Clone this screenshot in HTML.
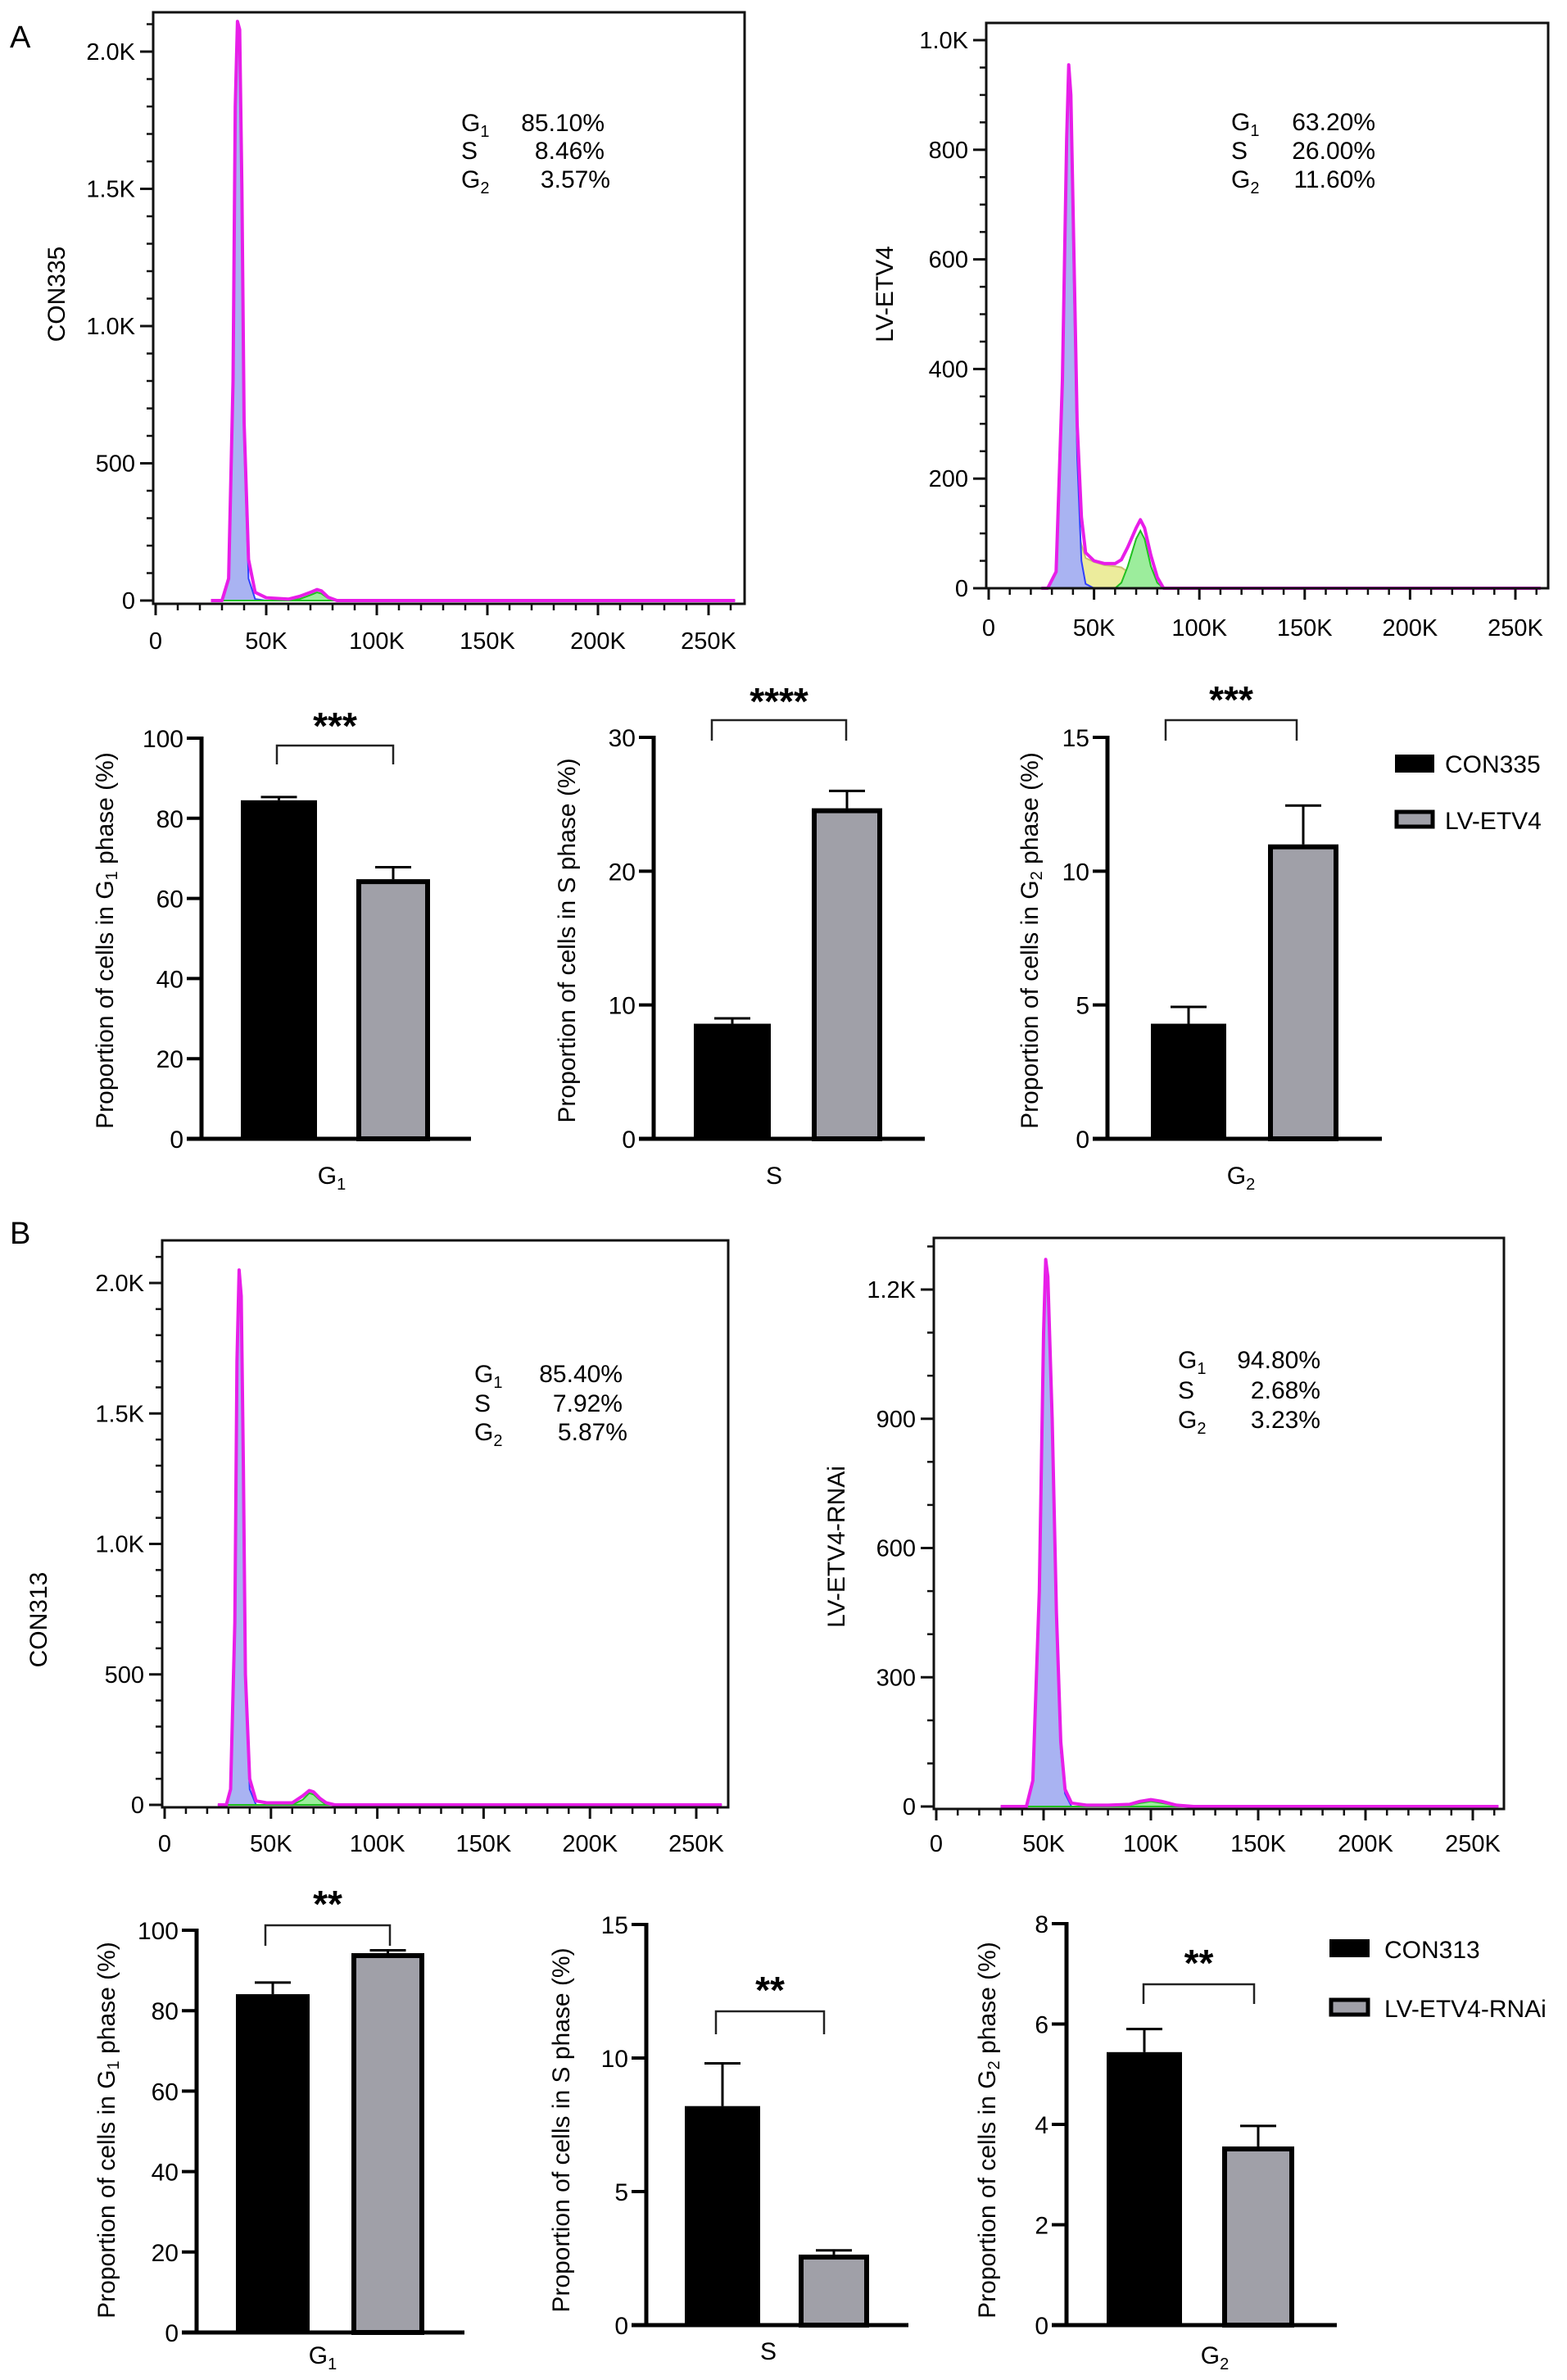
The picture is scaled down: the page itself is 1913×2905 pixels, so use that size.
<!DOCTYPE html>
<html><head><meta charset="utf-8"><title>Cell cycle figure</title>
<style>
html,body{margin:0;padding:0;background:#fff;}
svg{display:block;font-family:"Liberation Sans",Arial,sans-serif;}
</style></head>
<body>
<svg id="fig" width="1913" height="2905" viewBox="0 0 1913 2905" xmlns="http://www.w3.org/2000/svg">
<rect x="0" y="0" width="1913" height="2905" fill="#fff"/>
<text x="12" y="58" font-size="38">A</text>
<text x="12" y="1518" font-size="38">B</text>

<text transform="translate(79,359) rotate(-90)" text-anchor="middle" font-size="30">CON335</text>
<text transform="translate(1090,359) rotate(-90)" text-anchor="middle" font-size="30">LV-ETV4</text>
<text transform="translate(57,1977) rotate(-90)" text-anchor="middle" font-size="30">CON313</text>
<text transform="translate(1031,1888) rotate(-90)" text-anchor="middle" font-size="30">LV-ETV4-RNAi</text>

<g font-size="30">
<text x="563" y="160">G<tspan font-size="20" dy="7">1</tspan></text><text x="738" y="160" text-anchor="end">85.10%</text>
<text x="563" y="194">S</text><text x="738" y="194" text-anchor="end">8.46%</text>
<text x="563" y="229">G<tspan font-size="20" dy="7">2</tspan></text><text x="745" y="229" text-anchor="end">3.57%</text>
</g>
<g font-size="30">
<text x="1503" y="159">G<tspan font-size="20" dy="7">1</tspan></text><text x="1679" y="159" text-anchor="end">63.20%</text>
<text x="1503" y="194">S</text><text x="1679" y="194" text-anchor="end">26.00%</text>
<text x="1503" y="229">G<tspan font-size="20" dy="7">2</tspan></text><text x="1679" y="229" text-anchor="end">11.60%</text>
</g>
<g font-size="30">
<text x="579" y="1687">G<tspan font-size="20" dy="7">1</tspan></text><text x="760" y="1687" text-anchor="end">85.40%</text>
<text x="579" y="1723">S</text><text x="760" y="1723" text-anchor="end">7.92%</text>
<text x="579" y="1758">G<tspan font-size="20" dy="7">2</tspan></text><text x="766" y="1758" text-anchor="end">5.87%</text>
</g>
<g font-size="30">
<text x="1438" y="1670">G<tspan font-size="20" dy="7">1</tspan></text><text x="1612" y="1670" text-anchor="end">94.80%</text>
<text x="1438" y="1707">S</text><text x="1612" y="1707" text-anchor="end">2.68%</text>
<text x="1438" y="1743">G<tspan font-size="20" dy="7">2</tspan></text><text x="1612" y="1743" text-anchor="end">3.23%</text>
</g>

<text transform="translate(138,1148) rotate(-90)" text-anchor="middle" font-size="30">Proportion of cells in G<tspan font-size="20" dy="5">1</tspan><tspan dy="-5"> phase (%)</tspan></text>
<text transform="translate(702,1148) rotate(-90)" text-anchor="middle" font-size="30">Proportion of cells in S phase (%)</text>
<text transform="translate(1267,1148) rotate(-90)" text-anchor="middle" font-size="30">Proportion of cells in G<tspan font-size="20" dy="5">2</tspan><tspan dy="-5"> phase (%)</tspan></text>
<text transform="translate(140,2600) rotate(-90)" text-anchor="middle" font-size="30">Proportion of cells in G<tspan font-size="20" dy="5">1</tspan><tspan dy="-5"> phase (%)</tspan></text>
<text transform="translate(695,2600) rotate(-90)" text-anchor="middle" font-size="30">Proportion of cells in S phase (%)</text>
<text transform="translate(1215,2600) rotate(-90)" text-anchor="middle" font-size="30">Proportion of cells in G<tspan font-size="20" dy="5">2</tspan><tspan dy="-5"> phase (%)</tspan></text>

<rect x="1703" y="921" width="48" height="22" fill="#000"/>
<text x="1764" y="943" font-size="30">CON335</text>
<rect x="1705" y="991" width="44" height="18" fill="#a0a0a8" stroke="#000" stroke-width="5"/>
<text x="1764" y="1012" font-size="30">LV-ETV4</text>
<rect x="1623" y="2367" width="49" height="22" fill="#000"/>
<text x="1690" y="2390" font-size="30">CON313</text>
<rect x="1625" y="2441" width="45" height="18" fill="#a0a0a8" stroke="#000" stroke-width="5"/>
<text x="1690" y="2462" font-size="30">LV-ETV4-RNAi</text>

<g id="dyn"></g>
</svg>
<script>
// ---------- Histogram data (x in K, y in counts) ----------
const histA1X = [25,30,33,35,36,37,38,39,40,42,45,50,60,65,70,73,75,78,82,90,262];
const histA1Y = [0,0,80,800,1800,2110,2080,1500,650,150,30,10,5,15,30,40,35,12,0,0,0];
const histA1G1 = [0,0,80,790,1780,2080,2030,1450,580,80,5,0,0,0,0,0,0,0,0,0,0];
const histA1G2 = [0,0,0,0,0,0,0,0,0,0,0,0,0,5,20,30,25,8,0,0,0];

const histA2X = [25,28,32,35,37,38,39,40,42,44,46,50,55,60,63,66,70,72,74,77,80,83,262];
const histA2Y = [0,0,30,380,820,955,900,700,300,130,65,50,45,45,52,75,110,125,110,60,20,0,0];
const histA2G1 = [0,0,30,370,800,930,880,640,240,50,8,0,0,0,0,0,0,0,0,0,0,0,0];
const histA2S = [0,0,0,0,0,20,60,100,110,80,55,48,42,40,38,30,18,8,0,0,0,0,0];
const histA2G2 = [0,0,0,0,0,0,0,0,0,0,0,0,0,0,10,40,90,105,90,40,10,0,0];

const histB1X = [25,29,31,33,34,35,36,37,38,40,43,48,55,60,65,68,70,73,76,80,262];
const histB1Y = [0,0,60,700,1700,2050,1950,1300,500,100,15,8,8,8,35,55,50,25,8,0,0];
const histB1G1 = [0,0,60,690,1680,2020,1910,1250,460,60,0,0,0,0,0,0,0,0,0,0,0];
const histB1G2 = [0,0,0,0,0,0,0,0,0,0,0,0,0,0,20,45,40,18,0,0,0];

const histB2X = [30,42,45,48,50,51,52,54,56,58,60,63,70,80,90,95,100,105,112,120,262];
const histB2Y = [0,0,60,500,1100,1270,1230,900,450,150,40,8,3,3,5,12,16,12,3,0,0];
const histB2G1 = [0,0,55,490,1080,1250,1210,880,430,130,30,0,0,0,0,0,0,0,0,0,0];
const histB2G2 = [0,0,0,0,0,0,0,0,0,0,0,0,0,0,3,8,12,8,2,0,0];

// ---------- Bar chart data ----------
const phaseCategories = ['G1','S','G2'];
const aControlValues = [84.5, 8.6, 4.3];
const aControlErrors = [0.8, 0.4, 0.63];
const aTreatValues = [64.8, 24.7, 11.0];
const aTreatErrors = [3.0, 1.3, 1.45];
const aMaxValues = [100, 30, 15];
const aTickValues = [[0,20,40,60,80,100],[0,10,20,30],[0,5,10,15]];
const aStars = ['***','****','***'];

const bControlValues = [84.1, 8.2, 5.44];
const bControlErrors = [2.9, 1.6, 0.46];
const bTreatValues = [94.3, 2.64, 3.56];
const bTreatErrors = [0.7, 0.16, 0.41];
const bMaxValues = [100, 15, 8];
const bTickValues = [[0,20,40,60,80,100],[0,5,10,15],[0,2,4,6,8]];
const bStars = ['**','**','**'];

const NS = 'http://www.w3.org/2000/svg';
const root = document.getElementById('dyn');
function el(tag, attrs, parent){
  const e = document.createElementNS(NS, tag);
  for (const k in attrs) e.setAttribute(k, attrs[k]);
  (parent || root).appendChild(e);
  return e;
}

function drawHist(id, g, xs, ys, g1, sArr, g2, yTicks, yLabels, yMinorStep){
  const sx = v => g.x0 + (g.x250 - g.x0) * v / 250;
  const sy = v => g.y0 - (g.y0 - g.yTopPx) * v / g.yTopVal;
  const grp = el('g', {});
  
  
  function area(arr, fill, stroke, name){
    let d = 'M' + sx(xs[0]) + ',' + sy(0);
    for (let i = 0; i < xs.length; i++) d += ' L' + sx(xs[i]).toFixed(1) + ',' + sy(arr[i]).toFixed(1);
    d += ' L' + sx(xs[xs.length-1]) + ',' + sy(0) + 'Z';
    const p = el('path', {d: d, fill: fill, stroke: stroke, 'stroke-width': 2}, grp);
    
    
  }
  if (sArr) area(sArr, '#ecec9c', '#c8c070', 'fit-s-phase');
  area(g1, '#a9b3f2', '#3040ff', 'fit-g1-phase');
  area(g2, '#9ced9c', '#20c020', 'fit-g2-phase');
  let d = '';
  for (let i = 0; i < xs.length; i++) d += (i ? ' L' : 'M') + sx(xs[i]).toFixed(1) + ',' + sy(ys[i]).toFixed(1);
  const line = el('path', {d: d, fill: 'none', stroke: '#e81ee8', 'stroke-width': 4, 'stroke-linejoin': 'round'}, grp);
  
  
  const fr = el('rect', {x: g.fx1, y: g.fy1, width: g.fx2 - g.fx1, height: g.fy2 - g.fy1, fill: 'none', stroke: '#111', 'stroke-width': 3}, grp);
  
  
  for (let v = 0; sy(v) >= g.fy1; v += yMinorStep){
    const t = el('line', {x1: g.fx1 - 8, x2: g.fx1, y1: sy(v), y2: sy(v), stroke: '#111', 'stroke-width': 2.5}, grp);
    
    
  }
  yTicks.forEach((v, i) => {
    const t = el('line', {x1: g.fx1 - 16, x2: g.fx1, y1: sy(v), y2: sy(v), stroke: '#111', 'stroke-width': 3}, grp);
    
    
    const lb = el('text', {x: g.fx1 - 22, y: sy(v) + 10, 'text-anchor': 'end', 'font-size': 29}, grp);
    lb.textContent = yLabels[i];
    
    
  });
  for (let v = 0; v <= 260; v += 10){
    const major = v % 50 === 0;
    const t = el('line', {x1: sx(v), x2: sx(v), y1: g.fy2, y2: g.fy2 + (major ? 14 : 8), stroke: '#111', 'stroke-width': major ? 3 : 2.5}, grp);
    
    
    if (major){
      const lb = el('text', {x: sx(v), y: g.xLabelY, 'text-anchor': 'middle', 'font-size': 29}, grp);
      lb.textContent = v === 0 ? '0' : v + 'K';
      
      
    }
  }
}

drawHist('histogram-con335', {x0:190,x250:865,y0:733,yTopPx:63,yTopVal:2000,fx1:187,fy1:15,fx2:909,fy2:737,xLabelY:792},
  histA1X, histA1Y, histA1G1, null, histA1G2, [0,500,1000,1500,2000], ['0','500','1.0K','1.5K','2.0K'], 100);
drawHist('histogram-lv-etv4', {x0:1207,x250:1850,y0:718,yTopPx:49,yTopVal:1000,fx1:1204,fy1:28,fx2:1890,fy2:718,xLabelY:776},
  histA2X, histA2Y, histA2G1, histA2S, histA2G2, [0,200,400,600,800,1000], ['0','200','400','600','800','1.0K'], 50);
drawHist('histogram-con313', {x0:201,x250:850,y0:2203,yTopPx:1566,yTopVal:2000,fx1:198,fy1:1514,fx2:889,fy2:2206,xLabelY:2260},
  histB1X, histB1Y, histB1G1, null, histB1G2, [0,500,1000,1500,2000], ['0','500','1.0K','1.5K','2.0K'], 100);
drawHist('histogram-lv-etv4-rnai', {x0:1143,x250:1798,y0:2205,yTopPx:1574,yTopVal:1200,fx1:1140,fy1:1511,fx2:1836,fy2:2208,xLabelY:2260},
  histB2X, histB2Y, histB2G1, null, histB2G2, [0,300,600,900,1200], ['0','300','600','900','1.2K'], 100);

function drawBar(id, g, maxV, ticks, cval, cerr, tval, terr, stars, cat){
  const sy = v => g.y0 - (g.y0 - g.yTop) * v / maxV;
  const grp = el('g', {});
  
  
  [[g.bx1, g.bw1, cval, cerr],[g.bx2, g.bw2, tval, terr]].forEach(([x, w, v, e]) => {
    const cx = x + w / 2;
    const l = el('line', {x1: cx, x2: cx, y1: sy(v), y2: sy(v + e), stroke: '#000', 'stroke-width': 3}, grp);
    
    
    const c = el('line', {x1: cx - 22, x2: cx + 22, y1: sy(v + e), y2: sy(v + e), stroke: '#000', 'stroke-width': 3}, grp);
    
    
  });
  const b1 = el('rect', {x: g.bx1, y: sy(cval), width: g.bw1, height: sy(0) - sy(cval), fill: '#000'}, grp);
  
  
  const b2 = el('rect', {x: g.bx2 + 3, y: sy(tval) + 3, width: g.bw2 - 6, height: sy(0) - sy(tval) - 3, fill: '#a0a0a8', stroke: '#000', 'stroke-width': 6}, grp);
  
  
  const ya = el('line', {x1: g.ax, x2: g.ax, y1: sy(maxV) - 2, y2: g.y0 + 2, stroke: '#000', 'stroke-width': 5}, grp);
  
  
  const xa = el('line', {x1: g.ax - 18, x2: g.xEnd, y1: g.y0, y2: g.y0, stroke: '#000', 'stroke-width': 5}, grp);
  
  
  ticks.forEach(v => {
    const t = el('line', {x1: g.ax - 18, x2: g.ax, y1: sy(v), y2: sy(v), stroke: '#000', 'stroke-width': 4}, grp);
    
    
    const lb = el('text', {x: g.ax - 22, y: sy(v) + 11, 'text-anchor': 'end', 'font-size': 30}, grp);
    lb.textContent = String(v);
    
    
  });
  const br = el('path', {d: 'M' + g.brx1 + ',' + g.bry2 + ' V' + g.bry1 + ' H' + g.brx2 + ' V' + g.bry2, fill: 'none', stroke: '#222', 'stroke-width': 2.5}, grp);
  
  
  const st = el('text', {x: (g.brx1 + g.brx2) / 2, y: g.starY + 4, 'text-anchor': 'middle', 'font-size': 46, 'font-weight': 'bold'}, grp);
  st.textContent = stars;
  
  
  const cl = el('text', {x: g.catX, y: g.catY, 'text-anchor': 'middle', 'font-size': 30}, grp);
  
  
  cl.textContent = cat.charAt(0);
  if (cat.length > 1){
    const ts = el('tspan', {'font-size': 20, dy: 7}, cl);
    ts.textContent = cat.charAt(1);
  }
}

const aGeom = [
  {ax:246,y0:1390,yTop:901,bx1:294,bw1:93,bx2:435,bw2:90,xEnd:575,brx1:338,brx2:480,bry1:910,bry2:933,starY:898,catX:405,catY:1445},
  {ax:798,y0:1390,yTop:900,bx1:847,bw1:94,bx2:991,bw2:86,xEnd:1129,brx1:869,brx2:1033,bry1:879,bry2:904,starY:868,catX:945,catY:1445},
  {ax:1352,y0:1390,yTop:900,bx1:1405,bw1:92,bx2:1548,bw2:86,xEnd:1687,brx1:1423,brx2:1583,bry1:879,bry2:904,starY:866,catX:1515,catY:1445}
];
const bGeom = [
  {ax:240,y0:2847,yTop:2356,bx1:288,bw1:90,bx2:429,bw2:89,xEnd:567,brx1:324,brx2:476,bry1:2350,bry2:2375,starY:2336,catX:394,catY:2885},
  {ax:789,y0:2838,yTop:2349,bx1:836,bw1:92,bx2:975,bw2:86,xEnd:1109,brx1:874,brx2:1006,bry1:2455,bry2:2483,starY:2441,catX:938,catY:2880},
  {ax:1302,y0:2838,yTop:2348,bx1:1351,bw1:92,bx2:1492,bw2:88,xEnd:1632,brx1:1396,brx2:1531,bry1:2422,bry2:2446,starY:2408,catX:1483,catY:2885}
];
for (let i = 0; i < 3; i++){
  drawBar('bar-chart-a-' + phaseCategories[i], aGeom[i], aMaxValues[i], aTickValues[i], aControlValues[i], aControlErrors[i], aTreatValues[i], aTreatErrors[i], aStars[i], phaseCategories[i]);
  drawBar('bar-chart-b-' + phaseCategories[i], bGeom[i], bMaxValues[i], bTickValues[i], bControlValues[i], bControlErrors[i], bTreatValues[i], bTreatErrors[i], bStars[i], phaseCategories[i]);
}
</script>
</body></html>
